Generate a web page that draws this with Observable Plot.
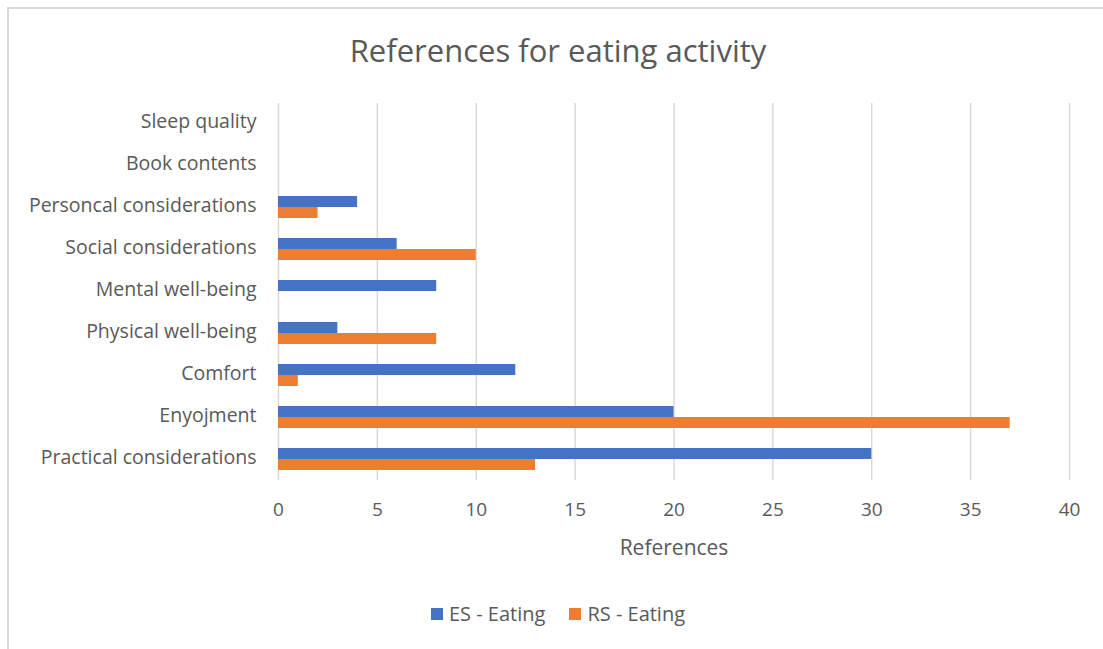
<!DOCTYPE html>
<html>
<head>
<meta charset="utf-8">
<script src="https://cdn.jsdelivr.net/npm/d3@7"></script>
<script src="https://cdn.jsdelivr.net/npm/@observablehq/plot@0.6"></script>
<style>
  html, body { margin: 0; padding: 0; background: #fff; overflow: hidden; }
  body { width: 1103px; height: 649px; position: relative; font-family: "Open Sans", Lato, sans-serif; color: #595959; }
  #frame { position: absolute; left: 7px; top: 7px; width: 1104px; height: 660px; border: 2px solid #d9d9d9; box-sizing: border-box; }
  #title { position: absolute; left: 0; top: 28px; width: 1116px; text-align: center; font-size: 31px; line-height: 44px; color: #595959; }
  #chart { position: absolute; left: 0; top: 94px; }
  #legend { position: absolute; left: 0; top: 600px; width: 1116px; display: flex; justify-content: center; gap: 24px; font-size: 20px; line-height: 28px; color: #595959; }
  .item { display: flex; align-items: center; gap: 6px; }
  .sw { width: 12px; height: 12px; display: inline-block; }
</style>
</head>
<body>
<div id="frame"></div>
<div id="title">References for eating activity</div>
<div id="chart"></div>
<div id="legend"></div>
<script>
// Categories, top to bottom
const categories = [
  "Sleep quality",
  "Book contents",
  "Personcal considerations",
  "Social considerations",
  "Mental well-being",
  "Physical well-being",
  "Comfort",
  "Enyojment",
  "Practical considerations"
];
// Number of references per category
const esValues = [0, 0, 4, 6, 8, 3, 12, 20, 30];
const rsValues = [0, 0, 2, 10, 0, 8, 1, 37, 13];
const seriesNames = ["ES - Eating", "RS - Eating"];
const seriesColors = ["#4472C4", "#ED7D31"];
const xTicks = [0, 5, 10, 15, 20, 25, 30, 35, 40];

const es = categories.map((c, i) => ({category: c, value: esValues[i]}));
const rs = categories.map((c, i) => ({category: c, value: rsValues[i]}));

const halfBar = 11;
const chart = Plot.plot({
  width: 1103,
  height: 466,
  marginLeft: 278,
  marginRight: 34,
  marginTop: 9,
  marginBottom: 80,
  style: {fontFamily: "'Open Sans', Lato, sans-serif", color: "#595959", background: "transparent"},
  x: {domain: [0, 40], ticks: xTicks, label: null},
  y: {domain: categories, paddingInner: 0.47, paddingOuter: 0.2, label: null},
  marks: [
    Plot.gridX(xTicks, {stroke: "#d9d9d9", strokeOpacity: 1, strokeWidth: 1.5}),
    Plot.barX(es, {x: "value", y: "category", fill: seriesColors[0], insetBottom: halfBar}),
    Plot.barX(rs, {x: "value", y: "category", fill: seriesColors[1], insetTop: halfBar}),
    Plot.axisX({ticks: xTicks, tickSize: 0, tickPadding: 22, fontSize: 19, fill: "#595959", label: null}),
    Plot.axisY({tickSize: 0, tickPadding: 22, fontSize: 19.5, dy: -2, fill: "#595959", label: null}),
    Plot.text(["References"], {frameAnchor: "bottom", dy: 74, fontSize: 21, fill: "#595959"})
  ]
});
document.getElementById("chart").appendChild(chart);

const legend = document.getElementById("legend");
seriesNames.forEach((name, i) => {
  const item = document.createElement("span");
  item.className = "item";
  const sw = document.createElement("span");
  sw.className = "sw";
  sw.style.background = seriesColors[i];
  item.appendChild(sw);
  item.appendChild(document.createTextNode(name));
  legend.appendChild(item);
});
</script>
</body>
</html>
